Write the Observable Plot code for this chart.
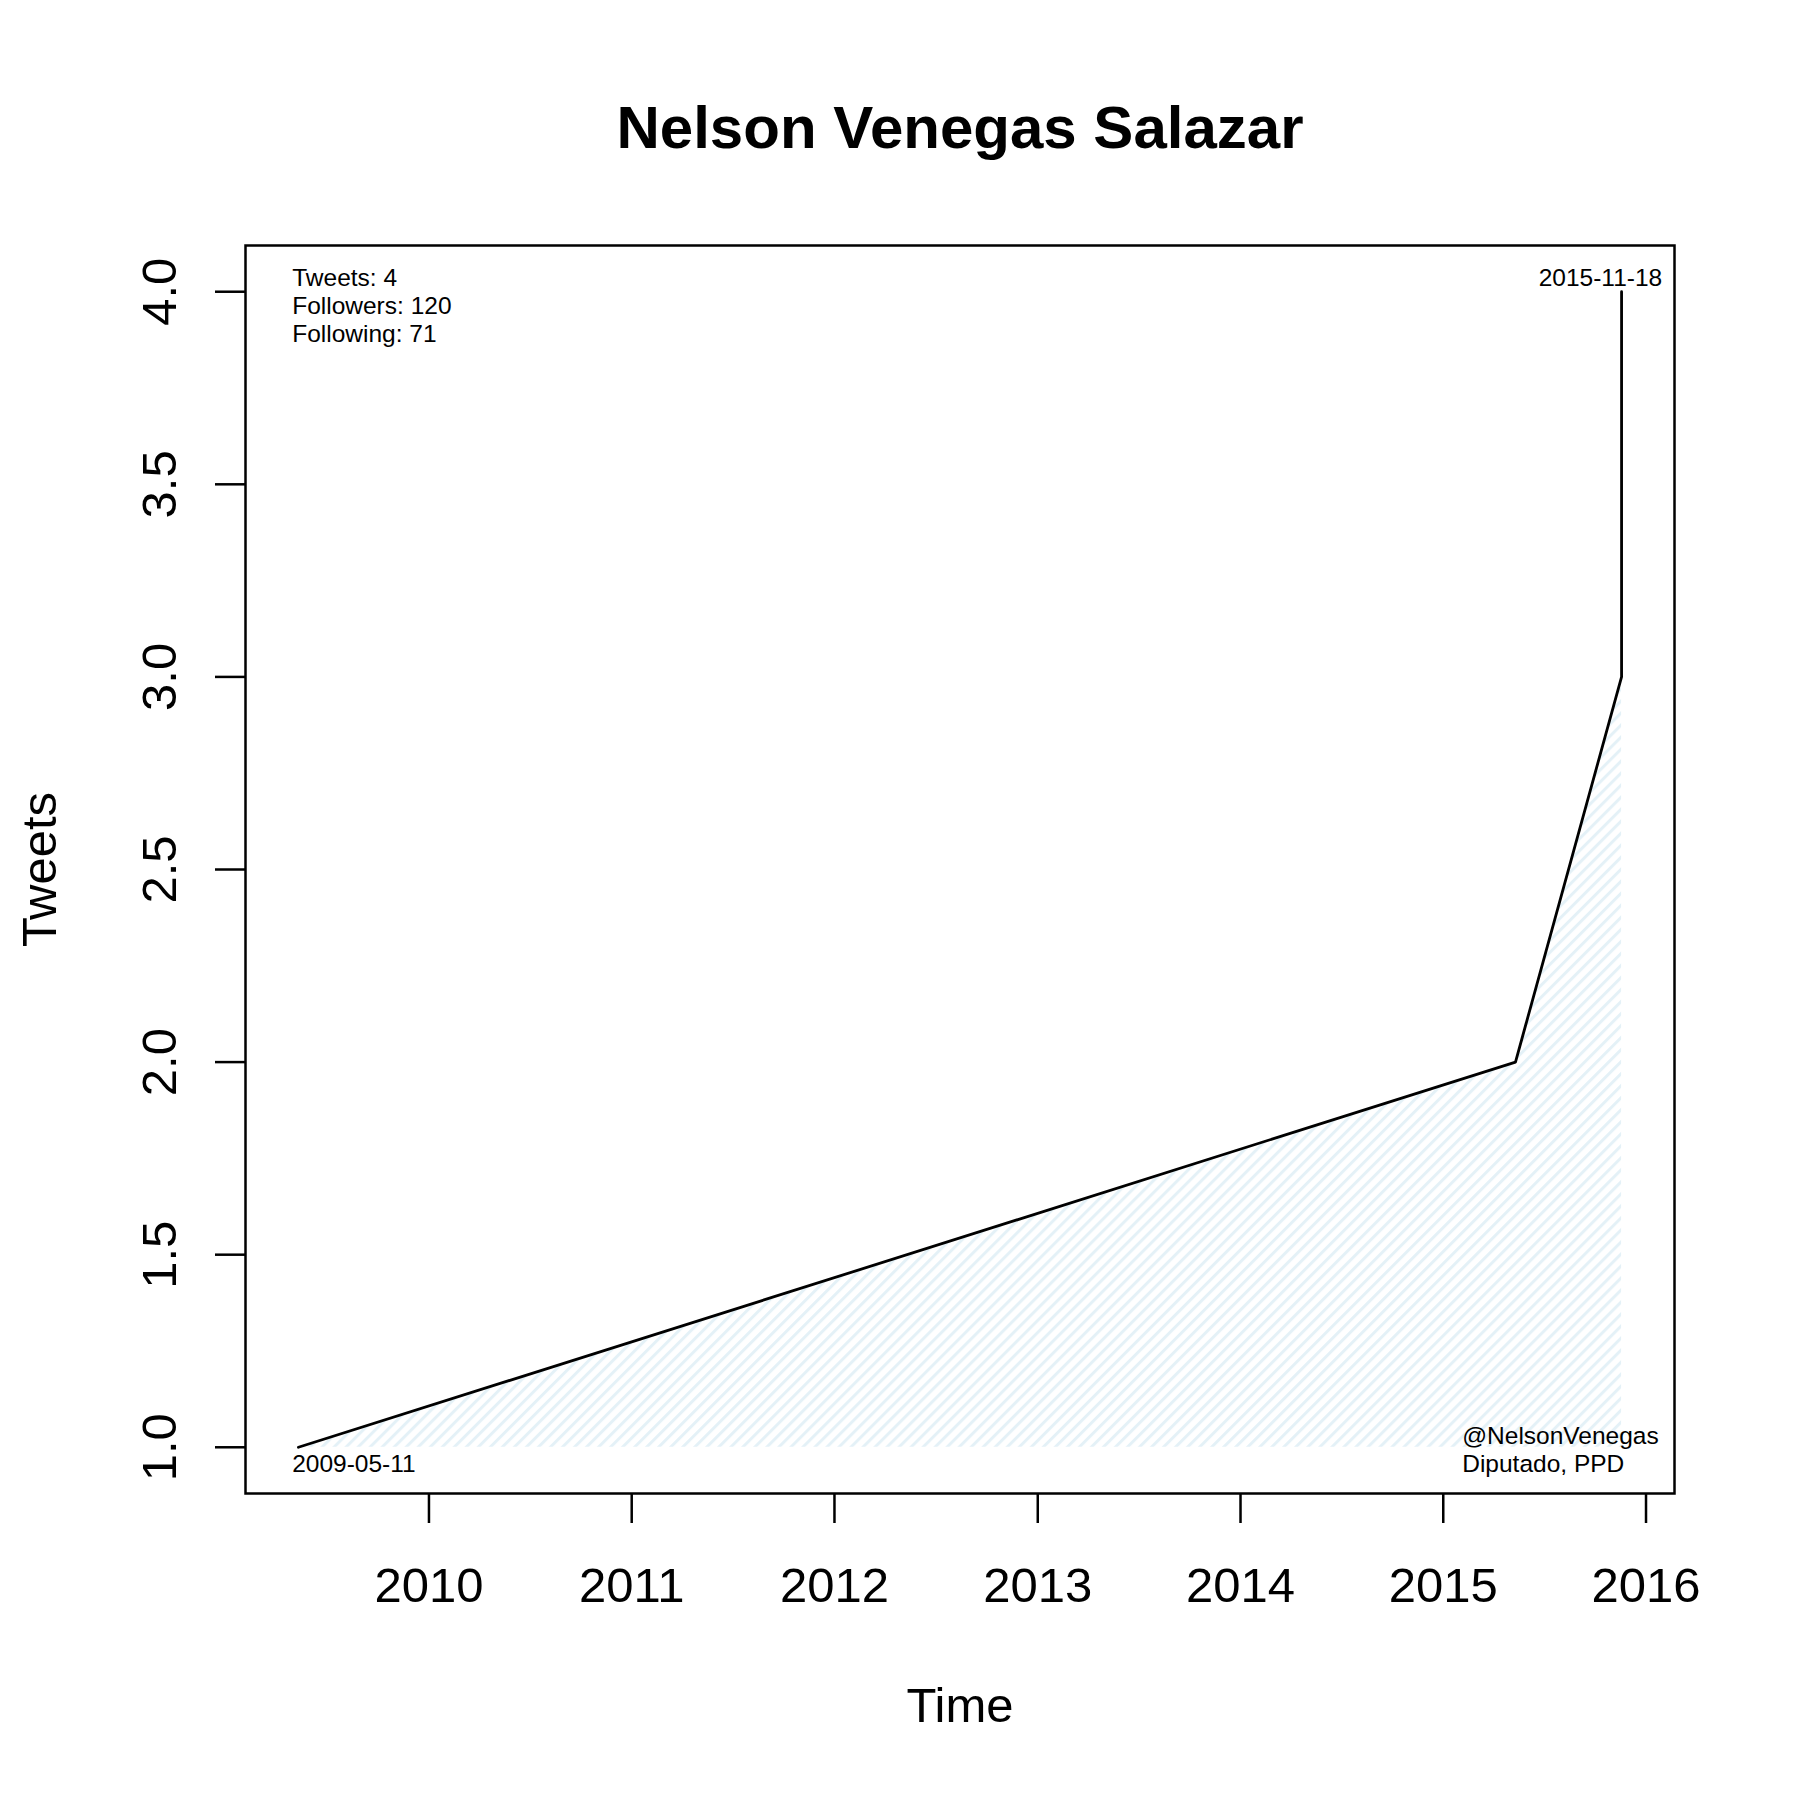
<!DOCTYPE html>
<html><head><meta charset="utf-8">
<script src="https://cdn.jsdelivr.net/npm/d3@7"></script>
<script src="https://cdn.jsdelivr.net/npm/@observablehq/plot@0.6"></script>
<style>body{margin:0;background:#fff;}</style>
</head><body><div id="chart"></div>
<script>
// ---- data ----
const dates = ["2009-05-11", "2015-05-11", "2015-11-18", "2015-11-18"];
const tweets = [1, 2, 3, 4];
const xTicks = ["2010-01-01", "2011-01-01", "2012-01-01", "2013-01-01", "2014-01-01", "2015-01-01", "2016-01-01"];
const xTickLabels = ["2010", "2011", "2012", "2013", "2014", "2015", "2016"];
const yTicks = [1, 1.5, 2, 2.5, 3, 3.5, 4];
const yTickLabels = ["1.0", "1.5", "2.0", "2.5", "3.0", "3.5", "4.0"];
const title = "Nelson Venegas Salazar";
const xLabel = "Time";
const yLabel = "Tweets";
const statsLines = ["Tweets: 4", "Followers: 120", "Following: 71"];
const firstDateLabel = "2009-05-11";
const lastDateLabel = "2015-11-18";
const accountLines = ["@NelsonVenegas", "Diputado, PPD"];

// ---- build ----
const data = dates.map((d, i) => ({date: new Date(d), n: tweets[i]}));
const xTickDates = xTicks.map(d => new Date(d));
const [x0, x1] = d3.extent(data, d => d.date);
const xPad = (x1 - x0) * 0.04;
const [y0, y1] = d3.extent(tweets);
const yPad = (y1 - y0) * 0.04;
const FONT = "Liberation Sans, Arial, Helvetica, sans-serif";

const chart = Plot.plot({
  width: 1800,
  height: 1800,
  marginLeft: 245,
  marginRight: 126,
  marginTop: 245,
  marginBottom: 307,
  style: {fontFamily: FONT, background: "#fff", color: "#000"},
  x: {type: "utc", domain: [new Date(+x0 - xPad), new Date(+x1 + xPad)]},
  y: {domain: [y0 - yPad, y1 + yPad]},
  marks: [
    Plot.areaY(data, {x: "date", y1: y0, y2: "n", fill: "#e6f1f7", curve: "linear"}),
    Plot.line(data, {x: "date", y: "n", stroke: "#000", strokeWidth: 2.8}),
    Plot.frame({stroke: "#000", strokeWidth: 2.5}),
    Plot.axisX({ticks: xTickDates, tickSize: 30, tickPadding: 44, strokeWidth: 2.5, fontSize: 49,
      tickFormat: d => xTickLabels[xTickDates.findIndex(t => +t === +d)], label: null}),
    Plot.axisY({ticks: yTicks, tickSize: 30, strokeWidth: 2.5, fill: "none", label: null}),
    Plot.text(yTicks, {y: d => d, text: (d, i) => yTickLabels[i], frameAnchor: "left", rotate: -90,
      textAnchor: "middle", lineAnchor: "bottom", dx: -70, fontSize: 49}),
    Plot.text([yLabel], {frameAnchor: "left", rotate: -90, textAnchor: "middle", lineAnchor: "bottom",
      dx: -190, fontSize: 49}),
    Plot.text([xLabel], {frameAnchor: "bottom", textAnchor: "middle", lineAnchor: "bottom", dy: 228.7, fontSize: 49}),
    Plot.text([title], {frameAnchor: "top", textAnchor: "middle", lineAnchor: "bottom", dy: -98, fontSize: 60, fontWeight: "bold"}),
    Plot.text([statsLines.join("\n")], {frameAnchor: "top-left", textAnchor: "start", lineAnchor: "bottom",
      dx: 46.7, dy: 96.7, fontSize: 24.5, lineHeight: 1.157}),
    Plot.text([lastDateLabel], {frameAnchor: "top-right", textAnchor: "end", lineAnchor: "bottom",
      dx: -12.3, dy: 40, fontSize: 24.5}),
    Plot.text([firstDateLabel], {frameAnchor: "bottom-left", textAnchor: "start", lineAnchor: "bottom",
      dx: 46.7, dy: -21.3, fontSize: 24.5}),
    Plot.text([accountLines.join("\n")], {frameAnchor: "bottom-right", textAnchor: "start", lineAnchor: "bottom",
      dx: -212.3, dy: -21.3, fontSize: 24.5, lineHeight: 1.16})
  ]
});

// hatch pattern for the area
const ns = "http://www.w3.org/2000/svg";
const defs = document.createElementNS(ns, "defs");
const pat = document.createElementNS(ns, "pattern");
pat.setAttribute("id", "hatch");
pat.setAttribute("patternUnits", "userSpaceOnUse");
pat.setAttribute("width", "8.5");
pat.setAttribute("height", "8.5");
pat.setAttribute("patternTransform", "rotate(45)");
const r = document.createElementNS(ns, "rect");
r.setAttribute("x", "0"); r.setAttribute("y", "0");
r.setAttribute("width", "3"); r.setAttribute("height", "8.5");
r.setAttribute("fill", "#e4f1f7");
pat.appendChild(r);
defs.appendChild(pat);
chart.insertBefore(defs, chart.firstChild);
const areaG = chart.querySelector('g[aria-label="area"]');
if (areaG) {
  areaG.setAttribute("fill", "url(#hatch)");
  areaG.querySelectorAll("path").forEach(p => p.setAttribute("fill", "url(#hatch)"));
}
document.getElementById("chart").appendChild(chart);
</script>
</body></html>
